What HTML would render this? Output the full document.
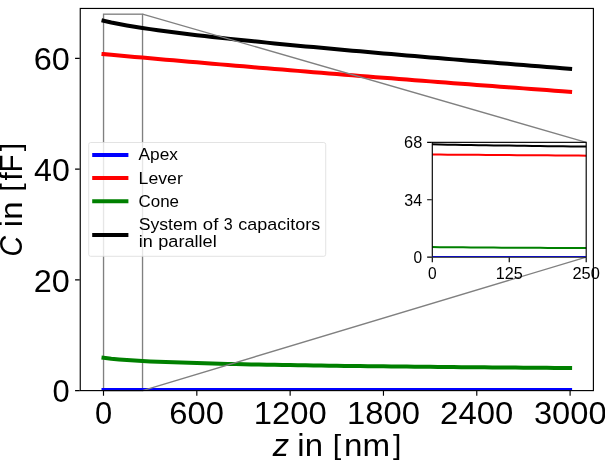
<!DOCTYPE html>
<html><head><meta charset="utf-8"><title>Capacitance vs z</title>
<style>
html,body{margin:0;padding:0;background:#fff;}
body{width:605px;height:461px;overflow:hidden;font-family:"Liberation Sans",sans-serif;}
svg{display:block;will-change:transform;}
</style></head><body>
<svg width="605" height="461" viewBox="0 0 605 461" font-family="Liberation Sans, sans-serif" fill="#000">
<defs><clipPath id="ca"><rect x="80.25" y="8.45" width="513.15" height="382.15"/></clipPath>
<clipPath id="ci"><rect x="432.30" y="142.35" width="153.90" height="114.75"/></clipPath></defs>
<rect width="605" height="461" fill="#fff"/>
<rect x="103.54" y="14.18" width="38.99" height="376.42" fill="none" stroke="#808080" stroke-width="1.35"/>
<g fill="none" stroke-width="4" stroke-linecap="square" stroke-linejoin="round" clip-path="url(#ca)">
<path d="M103.50,390.05 L111.28,390.05 L119.05,390.05 L126.83,390.05 L134.61,390.05 L142.38,390.05 L150.16,390.05 L157.94,390.05 L165.71,390.05 L173.49,390.05 L181.27,390.05 L189.04,390.05 L196.82,390.05 L204.60,390.05 L212.37,390.05 L220.15,390.05 L227.93,390.05 L235.70,390.05 L243.48,390.05 L251.26,390.05 L259.03,390.05 L266.81,390.05 L274.59,390.05 L282.36,390.05 L290.14,390.05 L297.92,390.05 L305.69,390.05 L313.47,390.05 L321.25,390.05 L329.02,390.05 L336.80,390.05 L344.58,390.05 L352.35,390.05 L360.13,390.05 L367.91,390.05 L375.68,390.05 L383.46,390.05 L391.24,390.05 L399.01,390.05 L406.79,390.05 L414.57,390.05 L422.34,390.05 L430.12,390.05 L437.90,390.05 L445.67,390.05 L453.45,390.05 L461.23,390.05 L469.00,390.05 L476.78,390.05 L484.56,390.05 L492.33,390.05 L500.11,390.05 L507.89,390.05 L515.66,390.05 L523.44,390.05 L531.22,390.05 L538.99,390.05 L546.77,390.05 L554.55,390.05 L562.32,390.05 L570.10,390.05" stroke="#0000ff"/>
<path d="M103.50,54.09 L111.28,54.79 L119.05,55.49 L126.83,56.19 L134.61,56.89 L142.38,57.58 L150.16,58.28 L157.94,58.96 L165.71,59.65 L173.49,60.33 L181.27,61.01 L189.04,61.69 L196.82,62.36 L204.60,63.03 L212.37,63.70 L220.15,64.37 L227.93,65.03 L235.70,65.69 L243.48,66.35 L251.26,67.00 L259.03,67.66 L266.81,68.31 L274.59,68.95 L282.36,69.60 L290.14,70.24 L297.92,70.88 L305.69,71.52 L313.47,72.15 L321.25,72.78 L329.02,73.41 L336.80,74.04 L344.58,74.66 L352.35,75.28 L360.13,75.90 L367.91,76.52 L375.68,77.14 L383.46,77.75 L391.24,78.36 L399.01,78.96 L406.79,79.57 L414.57,80.17 L422.34,80.77 L430.12,81.37 L437.90,81.97 L445.67,82.56 L453.45,83.15 L461.23,83.74 L469.00,84.33 L476.78,84.91 L484.56,85.49 L492.33,86.07 L500.11,86.65 L507.89,87.23 L515.66,87.80 L523.44,88.37 L531.22,88.94 L538.99,89.51 L546.77,90.07 L554.55,90.64 L562.32,91.20 L570.10,91.76" stroke="#ff0000"/>
<path d="M103.50,357.71 L111.28,358.66 L119.05,359.40 L126.83,360.01 L134.61,360.53 L142.38,360.98 L150.16,361.38 L157.94,361.73 L165.71,362.05 L173.49,362.35 L181.27,362.62 L189.04,362.87 L196.82,363.11 L204.60,363.33 L212.37,363.53 L220.15,363.73 L227.93,363.91 L235.70,364.09 L243.48,364.25 L251.26,364.41 L259.03,364.56 L266.81,364.71 L274.59,364.85 L282.36,364.98 L290.14,365.11 L297.92,365.24 L305.69,365.36 L313.47,365.47 L321.25,365.58 L329.02,365.69 L336.80,365.80 L344.58,365.90 L352.35,366.00 L360.13,366.10 L367.91,366.19 L375.68,366.28 L383.46,366.37 L391.24,366.46 L399.01,366.54 L406.79,366.62 L414.57,366.70 L422.34,366.78 L430.12,366.86 L437.90,366.93 L445.67,367.01 L453.45,367.08 L461.23,367.15 L469.00,367.22 L476.78,367.29 L484.56,367.35 L492.33,367.42 L500.11,367.48 L507.89,367.55 L515.66,367.61 L523.44,367.67 L531.22,367.73 L538.99,367.79 L546.77,367.84 L554.55,367.90 L562.32,367.96 L570.10,368.01" stroke="#008000"/>
<path d="M103.50,20.64 L111.28,22.45 L119.05,24.02 L126.83,25.45 L134.61,26.76 L142.38,27.98 L150.16,29.14 L157.94,30.24 L165.71,31.29 L173.49,32.31 L181.27,33.28 L189.04,34.23 L196.82,35.15 L204.60,36.05 L212.37,36.93 L220.15,37.79 L227.93,38.63 L235.70,39.45 L243.48,40.27 L251.26,41.07 L259.03,41.85 L266.81,42.63 L274.59,43.40 L282.36,44.16 L290.14,44.91 L297.92,45.65 L305.69,46.39 L313.47,47.11 L321.25,47.84 L329.02,48.55 L336.80,49.26 L344.58,49.97 L352.35,50.66 L360.13,51.36 L367.91,52.05 L375.68,52.73 L383.46,53.42 L391.24,54.09 L399.01,54.77 L406.79,55.43 L414.57,56.10 L422.34,56.76 L430.12,57.42 L437.90,58.07 L445.67,58.73 L453.45,59.37 L461.23,60.02 L469.00,60.66 L476.78,61.30 L484.56,61.94 L492.33,62.57 L500.11,63.20 L507.89,63.83 L515.66,64.45 L523.44,65.07 L531.22,65.69 L538.99,66.31 L546.77,66.92 L554.55,67.53 L562.32,68.14 L570.10,68.75" stroke="#000000"/>
</g>
<path d="M142.53,14.03 L586.20,142.35 M142.53,390.60 L586.20,257.10" fill="none" stroke="#808080" stroke-width="1.35"/>
<g fill="none" stroke="#000" stroke-width="1.15">
<rect x="80.25" y="8.45" width="513.15" height="382.15"/>
<path d="M103.50,391.10 v4.67 M196.82,391.10 v4.67 M290.14,391.10 v4.67 M383.46,391.10 v4.67 M476.78,391.10 v4.67 M570.10,391.10 v4.67 M79.75,390.60 h-4.67 M79.75,279.85 h-4.67 M79.75,169.10 h-4.67 M79.75,58.35 h-4.67"/>
</g>
<text transform="translate(94.88,423.83) scale(1.5432,1.5701)" font-size="20">0</text>
<text transform="translate(169.37,423.83) scale(1.6369,1.5701)" font-size="20">600</text>
<text transform="translate(253.76,423.83) scale(1.6390,1.5701)" font-size="20">1200</text>
<text transform="translate(347.08,423.83) scale(1.6390,1.5701)" font-size="20">1800</text>
<text transform="translate(440.11,423.83) scale(1.6454,1.5701)" font-size="20">2400</text>
<text transform="translate(533.93,423.83) scale(1.6341,1.5701)" font-size="20">3000</text>
<text transform="translate(52.49,402.33) scale(1.5432,1.5701)" font-size="20">0</text>
<text transform="translate(33.76,291.58) scale(1.6197,1.5701)" font-size="20">20</text>
<text transform="translate(34.00,180.83) scale(1.6086,1.5701)" font-size="20">40</text>
<text transform="translate(33.68,70.08) scale(1.6233,1.5701)" font-size="20">60</text>
<text transform="translate(272.76,456.20) scale(1.6311,1.5221)" font-size="20" font-style="italic">z</text>
<text transform="translate(297.33,456.20) scale(1.6455,1.5373)" font-size="20">in</text>
<text transform="translate(332.69,454.26) scale(1.5223,1.4036)" font-size="20">[</text>
<text transform="translate(344.11,456.20) scale(1.6567,1.5279)" font-size="20">nm</text>
<text transform="translate(392.93,454.26) scale(1.5032,1.4036)" font-size="20">]</text>
<g transform="translate(22.1,0) rotate(-90)">
<text transform="translate(-256.47,0.13) scale(1.4229,1.5701)" font-size="20" font-style="italic">C</text>
<text transform="translate(-227.17,0.00) scale(1.6438,1.5373)" font-size="20">in</text>
<text transform="translate(-191.85,-1.94) scale(1.5207,1.4036)" font-size="20">[</text>
<text transform="translate(-180.60,0.00) scale(1.4735,1.5426)" font-size="20">fF</text>
<text transform="translate(-151.37,-1.94) scale(1.5017,1.4036)" font-size="20">]</text>
</g>
<rect x="88.70" y="142.50" width="237.00" height="113.80" rx="2" fill="#fff" fill-opacity="0.8" stroke="#dcdcdc" stroke-opacity="0.8" stroke-width="1"/>
<g stroke-width="4" stroke-linecap="square">
<path d="M94.2,154.90 H126.4" stroke="#0000ff"/>
<path d="M94.2,178.00 H126.4" stroke="#ff0000"/>
<path d="M94.2,201.20 H126.4" stroke="#008000"/>
<path d="M94.2,235.00 H126.4" stroke="#000"/>
</g>
<text transform="translate(138.58,160.34) scale(0.8646,0.8380)" font-size="20">Apex</text>
<text transform="translate(138.59,183.72) scale(0.8836,0.8545)" font-size="20">Lever</text>
<text transform="translate(138.53,206.87) scale(0.8471,0.8565)" font-size="20">Cone</text>
<text transform="translate(138.74,230.03) scale(0.8816,0.8398)" font-size="20">System</text>
<text transform="translate(202.82,230.27) scale(0.9288,0.8464)" font-size="20">of</text>
<text transform="translate(223.67,230.27) scale(0.8020,0.8565)" font-size="20">3</text>
<text transform="translate(238.33,230.08) scale(0.8981,0.8300)" font-size="20">capacitors</text>
<text transform="translate(138.79,247.20) scale(0.9013,0.8386)" font-size="20">in</text>
<text transform="translate(158.26,247.08) scale(0.9078,0.8300)" font-size="20">parallel</text>
<rect x="432.30" y="142.35" width="153.90" height="114.75" fill="#fff"/>
<g fill="none" stroke-width="2" stroke-linecap="square" clip-path="url(#ci)">
<path d="M432.30,154.55 L440.00,154.60 L447.69,154.66 L455.38,154.71 L463.08,154.77 L470.78,154.82 L478.47,154.87 L486.17,154.93 L493.86,154.98 L501.56,155.03 L509.25,155.09 L516.95,155.14 L524.64,155.19 L532.34,155.25 L540.03,155.30 L547.73,155.35 L555.42,155.41 L563.12,155.46 L570.81,155.51 L578.51,155.56 L586.20,155.62" stroke="#ff0000"/>
<path d="M432.30,247.08 L440.00,247.16 L447.69,247.23 L455.38,247.30 L463.08,247.37 L470.78,247.43 L478.47,247.48 L486.17,247.54 L493.86,247.59 L501.56,247.64 L509.25,247.69 L516.95,247.73 L524.64,247.78 L532.34,247.82 L540.03,247.86 L547.73,247.90 L555.42,247.94 L563.12,247.97 L570.81,248.01 L578.51,248.04 L586.20,248.07" stroke="#008000"/>
<path d="M432.30,144.36 L440.00,144.50 L447.69,144.64 L455.38,144.78 L463.08,144.91 L470.78,145.03 L478.47,145.16 L486.17,145.27 L493.86,145.39 L501.56,145.50 L509.25,145.61 L516.95,145.72 L524.64,145.82 L532.34,145.93 L540.03,146.03 L547.73,146.13 L555.42,146.22 L563.12,146.32 L570.81,146.41 L578.51,146.50 L586.20,146.60" stroke="#000000"/>
</g>
<g fill="none" stroke="#000" stroke-width="1.15">
<rect x="432.30" y="142.35" width="153.90" height="114.75"/>
<path d="M432.30,257.60 v4.67 M509.25,257.60 v4.67 M586.20,257.60 v4.67 M431.80,257.10 h-4.67 M431.80,199.73 h-4.67 M431.80,142.35 h-4.67"/>
</g>
<path d="M432.30,256.93 L509.25,256.93 L586.20,256.93" fill="none" stroke="#0000c0" stroke-opacity="0.9" stroke-width="2" clip-path="url(#ci)"/>
<text transform="translate(427.97,278.86) scale(0.7757,0.7853)" font-size="20">0</text>
<text transform="translate(495.65,278.86) scale(0.8091,0.7853)" font-size="20">125</text>
<text transform="translate(572.44,278.86) scale(0.8217,0.7853)" font-size="20">250</text>
<text transform="translate(413.50,263.16) scale(0.7757,0.7853)" font-size="20">0</text>
<text transform="translate(404.33,205.79) scale(0.8019,0.7853)" font-size="20">34</text>
<text transform="translate(404.04,148.41) scale(0.8182,0.7853)" font-size="20">68</text>
</svg>
</body></html>
